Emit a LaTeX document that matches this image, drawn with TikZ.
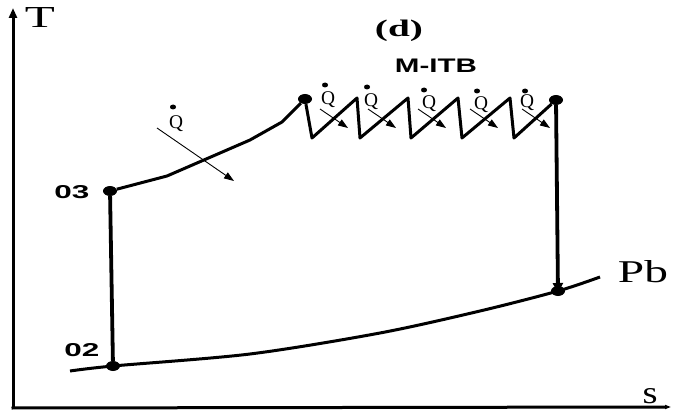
\documentclass[tikz,border=0pt]{standalone}
\usepackage{fontspec}
\usepackage{graphicx}
\setmainfont{Liberation Serif}
\newfontfamily\labsans{Liberation Sans}
\usetikzlibrary{arrows.meta,shapes.geometric}
\tikzset{
  thick line/.style={line width=3pt, line join=round},
  vert line/.style={line width=3.8pt},
  axis/.style={line width=3pt},
  dotpt/.style={ellipse, fill=black, inner sep=0pt, minimum width=14pt, minimum height=10pt},
  qdot/.style={ellipse, fill=black, inner sep=0pt, minimum width=6pt, minimum height=5pt},
  qarrow/.style={line width=0.9pt, -{Triangle[length=10pt,width=7pt]}},
  lab/.style={inner sep=0pt},
}
\newcommand{\qsym}{\resizebox{14pt}{!}{Q}}
\begin{document}
\begin{tikzpicture}[x=1pt,y=-1pt]
\useasboundingbox (0,0) rectangle (673,412);
% axes
\coordinate (O) at (13,408);
\coordinate (Ttop) at (13,8);
\coordinate (Send) at (671,407);
\draw[axis,-{Triangle[length=10pt,width=8pt]}] (O) -- (Ttop);
\draw[axis,-{Triangle[length=6pt,width=4pt]}] ([xshift=-1.5pt]O) -- (Send);
\node[lab] (T) at (40,17) {\resizebox{30pt}{20pt}{T}};
\node[lab] (S) at (650,396) {\resizebox{15pt}{15pt}{s}};
% points
\node[dotpt] (p02) at (113,366) {};
\node[dotpt] (p03) at (110,191) {};
\node[dotpt] (pa) at (305,99) {};
\node[dotpt] (pb) at (556,100) {};
\node[dotpt] (pc) at (558,291) {};
% labels
\node[lab] (l02) at (82,350) {\resizebox{35pt}{13pt}{\labsans\bfseries 02}};
\node[lab] (l03) at (72,192) {\resizebox{35pt}{13pt}{\labsans\bfseries 03}};
\node[lab] (ld) at (399,31) {\resizebox{48pt}{16.5pt}{\bfseries (d)}};
\node[lab] (lm) at (436,66) {\resizebox{82pt}{13.5pt}{\labsans\bfseries M-ITB}};
\node[lab] (lpb) at (643,272) {\resizebox{50pt}{22pt}{Pb}};
% bottom isobar
\coordinate (b0) at (70,371);
\coordinate (b6) at (600,277);
\draw[thick line] plot[smooth, tension=0.5] coordinates {(b0) (p02) (250,354) (380,333) (480,311) (pc) (b6)};
% compression
\draw[vert line] (p02) -- (p03);
% heating curve
\draw[thick line] (p03) -- (167,176) -- (250,140) -- (282,122) -- (pa);
% sawtooth
\coordinate (v1) at (312,138);
\coordinate (t2) at (357,98);
\coordinate (v2) at (360,138);
\coordinate (t3) at (408,98);
\coordinate (v3) at (411,138);
\coordinate (t4) at (458,98);
\coordinate (v4) at (462,138);
\coordinate (t5) at (510,98);
\coordinate (v5) at (514,138);
\draw[thick line] (pa) -- (v1) -- (t2) -- (v2) -- (t3) -- (v3) -- (t4) -- (v4) -- (t5) -- (v5) -- (pb);
% expansion
\draw[vert line,-{Triangle[length=10pt,width=10pt]}] (pb) -- ([yshift=-2pt]pc.center);
% big Q
\node[qdot] (qd0) at (173,107) {};
\node[lab] (q0) at (176,124) {\qsym};
\coordinate (a0s) at (157,128);
\coordinate (a0e) at (234,181);
\draw[qarrow] (a0s) -- (a0e);
% small Qs
\foreach \i/\dx/\dy/\qx/\qy/\ax in {1/325/85/328/100/320, 2/367/87/371/102/368, 3/424/90/429/104/418, 4/477/91/481/105/470, 5/525/91/527/103/522}{
  \node[qdot] (qd\i) at (\dx,\dy) {};
  \node[lab] (q\i) at (\qx,\qy) {\qsym};
  \coordinate (as\i) at (\ax,109);
  \coordinate (ae\i) at (\ax+28,128);
  \draw[qarrow] (as\i) -- (ae\i);
}
\end{tikzpicture}
\end{document}
